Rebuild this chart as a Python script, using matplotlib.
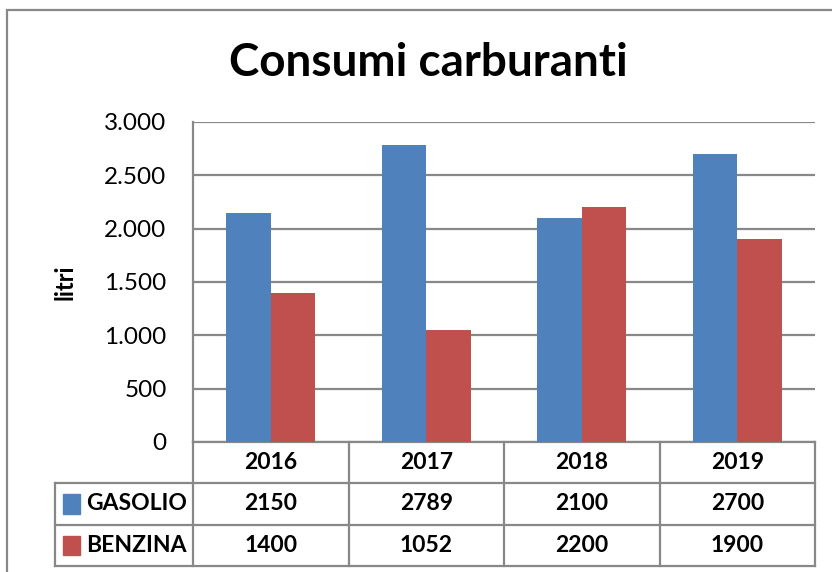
import numpy as np
import matplotlib
matplotlib.use('Agg')
import matplotlib.pyplot as plt
from matplotlib.patches import Rectangle
from matplotlib.ticker import FuncFormatter, MultipleLocator
import matplotlib.transforms as mtrans

plt.rcParams['font.family'] = ['Lato', 'DejaVu Sans']

years = ['2016', '2017', '2018', '2019']
series = ['GASOLIO', 'BENZINA']
gasolio = [2150, 2789, 2100, 2700]
benzina = [1400, 1052, 2200, 1900]
values = [gasolio, benzina]
colors = ['#4F81BD', '#C0504D']
GRID = '#888888'

fig = plt.figure(figsize=(8.32, 5.72), dpi=100)
ax = fig.add_axes([193/832, 1-442/572, (815-193)/832, 320/572])

# outer chart frame
fig.patches.append(Rectangle((7/832, -0.1), 1.2, 1-10/572+0.1, transform=fig.transFigure,
                             fill=False, edgecolor=GRID, lw=1.6))

x = np.arange(len(years))
w = 0.285
for i, (vals, c) in enumerate(zip(values, colors)):
    ax.bar(x + (i-0.5)*w, vals, width=w, color=c, edgecolor='none', zorder=3)

ax.set_xlim(-0.5, len(years)-0.5)
ax.set_ylim(0, 3000)
ax.yaxis.set_major_locator(MultipleLocator(500))
ax.yaxis.set_major_formatter(FuncFormatter(lambda v, p: '{:,.0f}'.format(v).replace(',', '.')))
ax.tick_params(axis='y', length=0, pad=19, labelsize=17.5)
ax.tick_params(axis='x', bottom=False, labelbottom=False)
ax.grid(axis='y', color=GRID, lw=1.6, zorder=0)
for s in ['top', 'right', 'bottom']:
    ax.spines[s].set_visible(False)
ax.spines['left'].set_color(GRID)
ax.spines['left'].set_linewidth(1.6)
ax.set_ylabel('litri', fontsize=17, fontweight='bold', labelpad=20)

fig.text(428/832, 1-63/572, 'Consumi carburanti', ha='center', va='center',
         fontsize=33, fontweight='bold')

# data table below the axis
tr = mtrans.blended_transform_factory(ax.transData, ax.transAxes)
rows = [0, -41/320, -83/320, -124/320]
left = -0.5 - (193-55)/((815-193)/4)
kw = dict(color=GRID, lw=1.6, transform=tr, clip_on=False)
ax.plot([-0.5, 3.5], [rows[0], rows[0]], **kw)
for r in rows[1:]:
    ax.plot([left, 3.5], [r, r], **kw)
for xv in np.arange(-0.5, 4.0, 1.0):
    ax.plot([xv, xv], [rows[0], rows[-1]], **kw)
ax.plot([left, left], [rows[1], rows[-1]], **kw)

for j, yr in enumerate(years):
    ax.text(j, (rows[0]+rows[1])/2, yr, transform=tr, ha='center', va='center',
            fontsize=16.5, fontweight='bold')
for i, (name, vals, c) in enumerate(zip(series, values, colors)):
    yc = (rows[i+1]+rows[i+2])/2
    ax.add_patch(Rectangle((left+0.05, yc-0.03), 0.11, 0.06, transform=tr,
                           color=c, clip_on=False))
    ax.text(left+0.2, yc, name, transform=tr, ha='left', va='center',
            fontsize=16.5, fontweight='bold')
    for j, v in enumerate(vals):
        ax.text(j, yc, str(v), transform=tr, ha='center', va='center',
                fontsize=16.5, fontweight='bold')

fig.savefig('out.png', dpi=100, facecolor='white')
